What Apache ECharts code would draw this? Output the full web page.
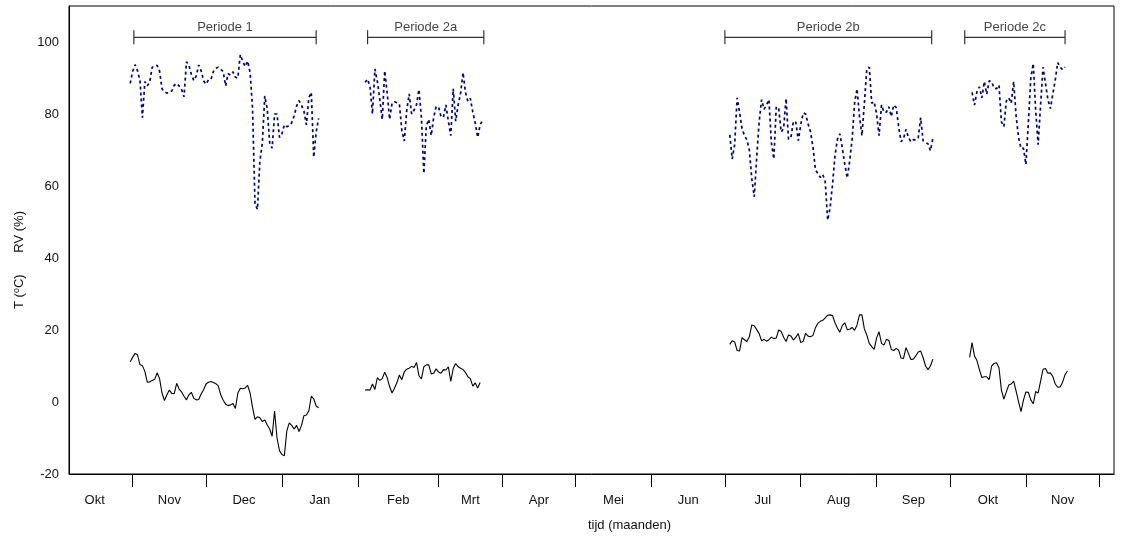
<!DOCTYPE html>
<html><head><meta charset="utf-8">
<script src="https://cdn.jsdelivr.net/npm/echarts@6/dist/echarts.min.js"></script>
<style>html,body{margin:0;padding:0;background:#fff}#c{width:1124px;height:541px}</style>
</head><body><div id="c"></div>
<script>
// x unit: days since 1 October (first year)
const monthNames = ['Okt','Nov','Dec','Jan','Feb','Mrt','Apr','Mei','Jun','Jul','Aug','Sep','Okt','Nov'];
const monthStarts = [0,31,61,92,123,156,182,212,243,273,304,335,365,396,426];
const xMin = 5, xMax = 432;
const yMin = -20, yMax = 110, yStep = 20;

const periodNames = ['Periode 1','Periode 2a','Periode 2b','Periode 2c'];
const periodStart = [31.5, 127, 273, 371];
const periodEnd   = [106, 174.5, 357.5, 412];

// Temperature (°C), daily values; first day per period in tStart
const tStart = [30, 126, 275, 373];
const T1 = [11.2,12.4,13.5,13.1,10.4,10.1,8.5,5.5,5.6,6.0,6.3,8.1,6.5,2.5,0.4,2.0,3.3,2.4,2.3,5.2,3.6,2.8,1.6,0.6,2.0,2.7,1.0,0.6,0.7,2.2,3.4,5.0,5.5,5.7,5.4,5.1,4.5,2.0,0.5,-0.6,-1.0,-0.8,-0.4,-1.8,2.5,3.8,3.7,3.9,4.6,2.5,-1.5,-4.8,-4.1,-4.4,-5.4,-5.0,-6.4,-7.5,-9.5,-2.5,-10.0,-13.5,-14.6,-14.9,-8.0,-5.8,-6.5,-7.5,-6.5,-8.2,-6.5,-3.8,-3.6,-2.5,1.6,0.9,-1.1,-1.6];
const T2a = [3.3,3.4,3.3,5.0,3.5,6.8,6.0,6.5,8.3,6.8,4.3,2.5,3.8,5.4,7.5,6.2,8.4,9.1,9.4,9.9,9.6,11.0,7.3,6.4,9.8,10.3,10.3,7.8,8.0,9.2,8.3,8.0,9.0,8.9,9.8,5.7,9.3,10.7,9.8,9.4,9.0,8.2,7.0,6.5,4.4,5.3,3.9,5.4];
const T2b = [16.0,17.0,16.7,14.3,14.2,17.9,17.3,16.8,18.1,21.4,21.2,20.1,19.0,17.0,17.4,16.9,17.3,18.0,17.6,17.8,20.0,19.6,18.0,16.8,18.6,18.3,17.2,18.0,19.0,16.5,16.9,19.1,18.3,18.1,18.5,20.6,21.9,22.4,22.7,23.4,24.1,24.2,24.0,22.0,20.5,19.4,21.3,22.0,20.1,20.2,20.7,19.9,21.4,24.2,24.2,20.3,18.6,16.3,15.4,14.6,17.8,19.5,16.3,15.8,17.4,17.1,14.6,14.3,14.9,14.4,12.2,12.1,15.1,13.5,11.8,11.9,12.8,13.9,14.2,12.3,10.0,9.0,10.0,11.9];
const T2c = [12.4,16.5,12.8,11.5,9.0,6.8,7.0,7.0,6.2,10.0,10.7,10.9,9.5,3.3,0.8,2.8,4.7,5.0,5.8,3.0,0.1,-2.7,0.5,2.8,2.7,0.6,-0.5,2.9,2.5,5.8,9.1,9.3,8.0,8.1,7.1,5.0,4.1,4.2,5.5,7.6,8.6];

// Relative humidity (%), daily values; first day per period in rhStart
const rhStart = [30, 126, 275, 374];
const RH1 = [88.5,91.8,93.7,92.0,89.3,79.0,89.0,87.8,89.0,93.0,93.2,93.5,92.0,87.0,86.2,85.8,86.0,86.4,88.0,88.5,87.8,86.8,84.8,94.5,93.5,91.0,89.3,90.6,93.6,92.0,89.2,88.3,89.5,89.6,91.8,92.7,93.0,92.4,91.8,87.8,91.2,90.8,91.7,90.2,90.0,96.5,94.6,93.2,94.7,91.5,81.5,55.0,53.5,67.0,72.0,85.0,81.5,72.0,70.5,80.0,80.0,73.5,74.5,77.0,76.5,76.7,77.6,79.5,82.2,83.7,82.4,80.8,77.0,84.5,86.0,68.0,75.0,78.8];
const RH2a = [88.8,89.7,87.5,80.0,92.5,89.0,84.0,78.5,92.0,86.0,78.5,83.0,83.4,83.1,82.8,75.5,72.5,81.0,85.6,80.0,81.1,82.6,86.8,79.0,63.5,76.7,78.5,74.0,79.0,82.0,82.0,79.3,79.1,82.5,78.0,74.0,87.0,78.0,82.5,85.7,91.5,86.0,83.5,84.3,80.5,77.5,73.5,77.0,78.3];
const RH2b = [74.2,67.5,71.5,84.5,80.5,76.0,74.0,72.8,70.0,62.0,57.0,68.0,77.8,84.0,81.3,82.5,84.0,72.0,67.5,82.0,81.5,75.0,76.0,84.3,73.0,73.5,78.0,77.7,72.6,77.0,80.3,80.0,77.2,75.0,70.8,64.5,63.5,62.4,63.2,61.2,50.5,54.0,60.5,68.5,73.0,74.5,70.5,66.0,62.2,67.0,73.0,83.0,87.0,79.3,74.0,83.0,92.5,93.0,83.0,83.4,80.0,74.0,82.5,80.5,80.5,82.0,79.3,82.5,81.8,76.5,72.3,73.2,75.7,73.5,72.3,72.9,72.8,73.4,79.0,72.5,72.1,71.7,69.8,73.3];
const RH2c = [86.0,82.5,86.2,87.5,84.5,89.0,85.5,89.2,89.0,87.2,87.0,88.0,77.8,76.5,83.6,84.5,83.0,89.0,79.5,73.5,70.4,70.5,66.0,77.5,90.0,94.0,81.0,71.5,82.5,93.0,88.5,84.0,81.5,85.5,89.5,94.3,93.0,92.3,93.0];

const FONT = '"Liberation Sans", Arial, sans-serif';
const TXT = '#111';

const mids = monthStarts.slice(0, -1).map((s, i) => (s + monthStarts[i + 1]) / 2);
const toPairs = (start, vals) => vals.map((v, i) => [start + i, v]);

const series = [];
[T1, T2a, T2b, T2c].forEach((vals, k) => {
  series.push({
    type: 'line', data: toPairs(tStart[k], vals), symbol: 'none', silent: true,
    lineStyle: { color: '#000', width: 1.1 }, z: 3
  });
});
[RH1, RH2a, RH2b, RH2c].forEach((vals, k) => {
  series.push({
    type: 'line', data: toPairs(rhStart[k], vals), symbol: 'none', silent: true,
    lineStyle: { color: '#000080', width: 1.7, type: [3, 3] }, z: 4
  });
});
// period brackets
const bY = 101.3, cap = 1.95;
periodNames.forEach((name, k) => {
  const s = periodStart[k], e = periodEnd[k];
  series.push({
    type: 'line', symbol: 'none', silent: true,
    data: [[s, bY - cap], [s, bY + cap], [s, bY], [e, bY], [e, bY + cap], [e, bY - cap]],
    lineStyle: { color: '#333', width: 1.2 }
  });
  series.push({
    type: 'scatter', symbolSize: 0, silent: true,
    data: [[(s + e) / 2, bY]],
    label: { show: true, position: 'top', distance: 3, formatter: name,
      fontFamily: FONT, fontSize: 13, color: TXT }
  });
});

const chart = echarts.init(document.getElementById('c'));
chart.setOption({
  animation: false,
  backgroundColor: '#fff',
  grid: { left: 69, right: 10, top: 6, bottom: 67, show: true, borderColor: '#000', borderWidth: 1 },
  xAxis: {
    type: 'value', min: xMin, max: xMax,
    splitLine: { show: false },
    axisLine: { onZero: false, lineStyle: { color: '#000', width: 1 } },
    axisTick: { show: true, length: 13, lineStyle: { color: '#000' },
      customValues: monthStarts.filter(v => v >= xMin && v <= xMax) },
    axisLabel: {
      customValues: mids, margin: 20, fontFamily: FONT, fontSize: 13, color: TXT,
      formatter: (v) => {
        let bi = 0, bd = Infinity;
        mids.forEach((m, i) => { const d = Math.abs(m - v); if (d < bd) { bd = d; bi = i; } });
        return monthNames[bi];
      }
    },
    name: 'tijd (maanden)', nameLocation: 'middle', nameGap: 45,
    nameTextStyle: { fontFamily: FONT, fontSize: 13, color: TXT, padding: [0, 0, 0, 76] }
  },
  yAxis: {
    type: 'value', min: yMin, max: yMax, interval: yStep,
    splitLine: { show: false },
    axisLine: { show: true, onZero: false, lineStyle: { color: '#000', width: 1 } },
    axisTick: { show: false },
    axisLabel: { fontFamily: FONT, fontSize: 13, color: TXT, margin: 10, showMaxLabel: false },
    name: '{n|T (}{s|o}{n|C)      RV (%)}',
    nameLocation: 'middle', nameGap: 37,
    nameTextStyle: {
      padding: [0, 40, 0, 0],
      rich: {
        n: { fontFamily: FONT, fontSize: 13, color: TXT, lineHeight: 16 },
        s: { fontFamily: FONT, fontSize: 9, color: TXT, verticalAlign: 'top', lineHeight: 16 }
      }
    }
  },
  series: series
});
</script></body></html>
